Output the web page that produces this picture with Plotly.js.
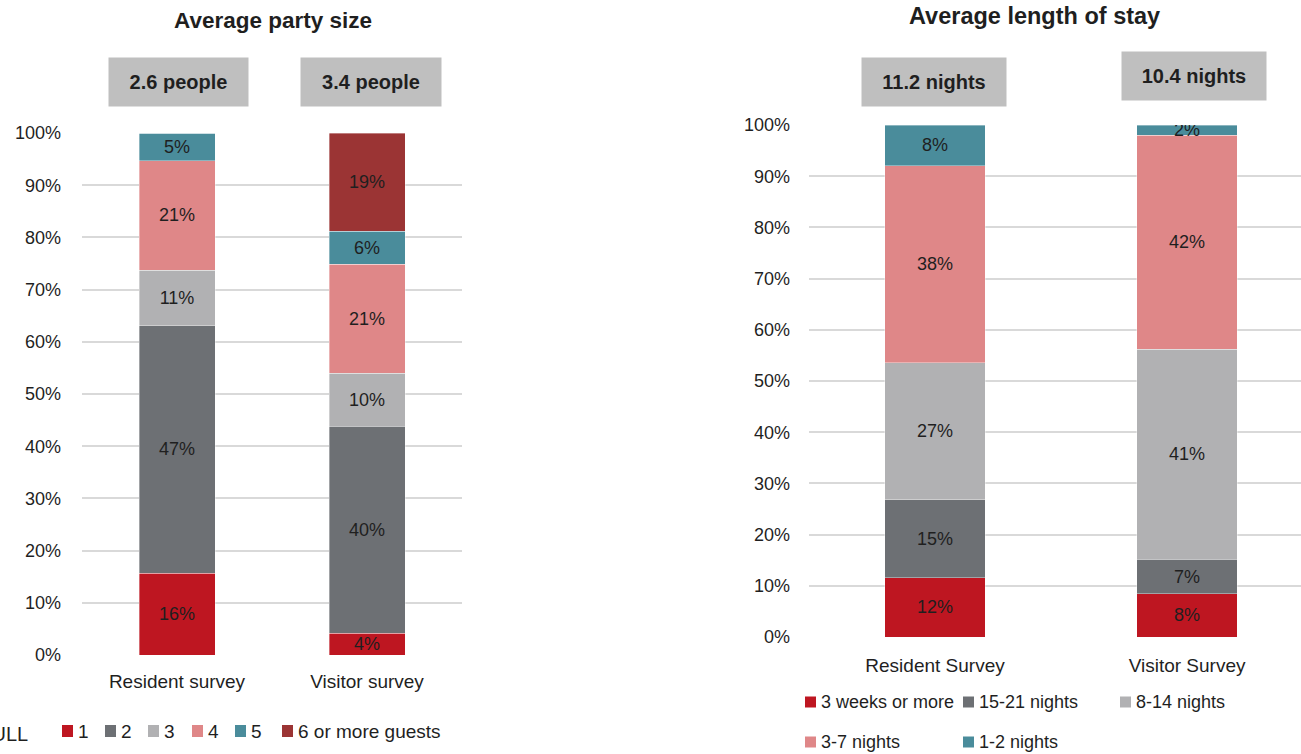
<!DOCTYPE html>
<html>
<head>
<meta charset="utf-8">
<script src="https://cdn.plot.ly/plotly-3.0.1.min.js"></script>
<style>
  html, body { margin: 0; padding: 0; background: #fff; }
  #chart { width: 1301px; height: 754px; }
</style>
</head>
<body>
<div id="chart"></div>
<script>
// ---------------- DATA ----------------
const partyTitle = 'Average party size';
const partyCategories = ['Resident survey', 'Visitor survey'];
const partySeries = ['1', '2', '3', '4', '5', '6 or more guests'];
const partyResident = [15.7, 47.4, 10.6, 21.0, 5.3, 0];
const partyVisitor = [4.2, 39.6, 10.2, 20.9, 6.3, 18.8];
const partySummary = ['2.6 people', '3.4 people'];

const stayTitle = 'Average length of stay';
const stayCategories = ['Resident Survey', 'Visitor Survey'];
const staySeries = ['3 weeks or more', '15-21 nights', '8-14 nights', '3-7 nights', '1-2 nights'];
const stayResident = [11.6, 15.2, 26.8, 38.4, 8.0];
const stayVisitor = [8.4, 6.8, 41.0, 41.8, 2.0];
const staySummary = ['11.2 nights', '10.4 nights'];

const yTicks = [0, 10, 20, 30, 40, 50, 60, 70, 80, 90, 100];

// ---------------- STYLE ----------------
const W = 1301, H = 754;
const FONT = "'Liberation Sans', Arial, sans-serif";
const TXT = '#1f1f1f';
const partyColors = ['#be1621', '#6d7074', '#b1b1b3', '#df8788', '#4a8c9b', '#9b3434'];
const stayColors = ['#be1621', '#6d7074', '#b1b1b3', '#df8788', '#4a8c9b'];

const px = x => x / W;
const py = y => 1 - y / H;
const pct = v => v > 0 ? Math.round(v) + '%' : '';

function barTrace(name, cats, vals, color, xa, ya) {
  return {
    type: 'bar', name: name, x: cats, y: vals,
    xaxis: xa, yaxis: ya,
    marker: { color: color, line: { color: 'rgba(255,255,255,0.45)', width: 0.8 } },
    text: vals.map(pct), textposition: 'inside', insidetextanchor: 'middle',
    textangle: 0, constraintext: 'none',
    insidetextfont: { family: FONT, size: 18, color: TXT },
    showlegend: false, hoverinfo: 'x+y+name'
  };
}

const traces = [];
partySeries.forEach((s, i) => {
  traces.push(barTrace(s, partyCategories, [partyResident[i], partyVisitor[i]], partyColors[i], 'x', 'y'));
});
staySeries.forEach((s, i) => {
  traces.push(barTrace(s, stayCategories, [stayResident[i], stayVisitor[i]], stayColors[i], 'x2', 'y2'));
});

// --------------- LEGENDS (manual swatches) ---------------
const shapes = [];
const annotations = [];
function legendItem(label, color, sx, cy, size, sw, sh) {
  shapes.push({ type: 'rect', xref: 'paper', yref: 'paper',
    x0: px(sx), x1: px(sx + sw), y0: py(cy + sh / 2), y1: py(cy - sh / 2),
    fillcolor: color, line: { width: 0 } });
  annotations.push({ xref: 'paper', yref: 'paper', x: px(sx + sw + 3), y: py(cy),
    xanchor: 'left', yanchor: 'middle', text: label, showarrow: false,
    font: { family: FONT, size: size, color: TXT } });
}
const partyLegendX = [62, 105, 148, 192, 235, 282];
partySeries.forEach((s, i) => legendItem(s, partyColors[i], partyLegendX[i], 731, 19, 11, 12));
const stayLegendPos = [[805, 702], [963, 702], [1120, 702], [805, 742], [963, 742]];
staySeries.forEach((s, i) => legendItem(s, stayColors[i], stayLegendPos[i][0], stayLegendPos[i][1], 18, 11, 11));

// clipped legend remnant at the far left (cut by the picture edge, as in the source)
annotations.push({ xref: 'paper', yref: 'paper', x: px(30), y: py(734), xanchor: 'right', yanchor: 'middle',
  text: 'NULL', showarrow: false, font: { family: FONT, size: 20, color: TXT } });

// --------------- TITLES & SUMMARY BOXES ---------------
annotations.push({ xref: 'paper', yref: 'paper', x: px(273), y: py(20), xanchor: 'center', yanchor: 'middle',
  text: '<b>' + partyTitle + '</b>', showarrow: false, font: { family: FONT, size: 22.5, color: TXT } });
annotations.push({ xref: 'paper', yref: 'paper', x: px(1034.5), y: py(16), xanchor: 'center', yanchor: 'middle',
  text: '<b>' + stayTitle + '</b>', showarrow: false, font: { family: FONT, size: 23.5, color: TXT } });

const boxPos = [[178.5, 82], [371, 82], [934, 82], [1194, 76]];
const boxTexts = partySummary.concat(staySummary);
const boxW = [139, 140, 144, 144];
boxTexts.forEach((t, i) => {
  annotations.push({ xref: 'paper', yref: 'paper', x: px(boxPos[i][0]), y: py(boxPos[i][1]),
    xanchor: 'center', yanchor: 'middle', text: '<b>' + t + '</b>', showarrow: false,
    width: boxW[i], height: 48, bgcolor: '#bfbfbf', borderpad: 0,
    font: { family: FONT, size: 20, color: TXT } });
});

// --------------- AXES ---------------
const yAxisBase = {
  range: [0, 100], tickvals: yTicks, ticktext: yTicks.map(v => v + '%'),
  showgrid: true, gridcolor: '#d9d9d9', gridwidth: 2,
  zeroline: false, showline: false, ticks: '',
  tickfont: { family: FONT, size: 18, color: TXT }, ticklabelstandoff: 20, fixedrange: true
};
const xAxisBase = {
  type: 'category', showgrid: false, zeroline: false, showline: false, ticks: '',
  tickfont: { family: FONT, size: 19, color: TXT }, ticklabelstandoff: 13, fixedrange: true
};

const layout = {
  width: W, height: H,
  margin: { l: 0, r: 0, t: 0, b: 0, autoexpand: false },
  paper_bgcolor: '#ffffff', plot_bgcolor: '#ffffff',
  barmode: 'stack', bargap: 0.6,
  font: { family: FONT, color: TXT },
  showlegend: false,
  xaxis: Object.assign({}, xAxisBase, { domain: [px(82), px(462)], range: [-0.5, 1.5], anchor: 'y' }),
  yaxis: Object.assign({}, yAxisBase, { domain: [py(655), py(133)], anchor: 'x' }),
  xaxis2: Object.assign({}, xAxisBase, { domain: [px(809), 1], range: [-0.5, 1.452], anchor: 'y2', ticklabelstandoff: 15 }),
  yaxis2: Object.assign({}, yAxisBase, { domain: [py(637), py(125)], anchor: 'x2', ticklabelstandoff: 18 }),
  shapes: shapes,
  annotations: annotations
};

Plotly.newPlot('chart', traces, layout, { displayModeBar: false, staticPlot: true });
</script>
</body>
</html>
